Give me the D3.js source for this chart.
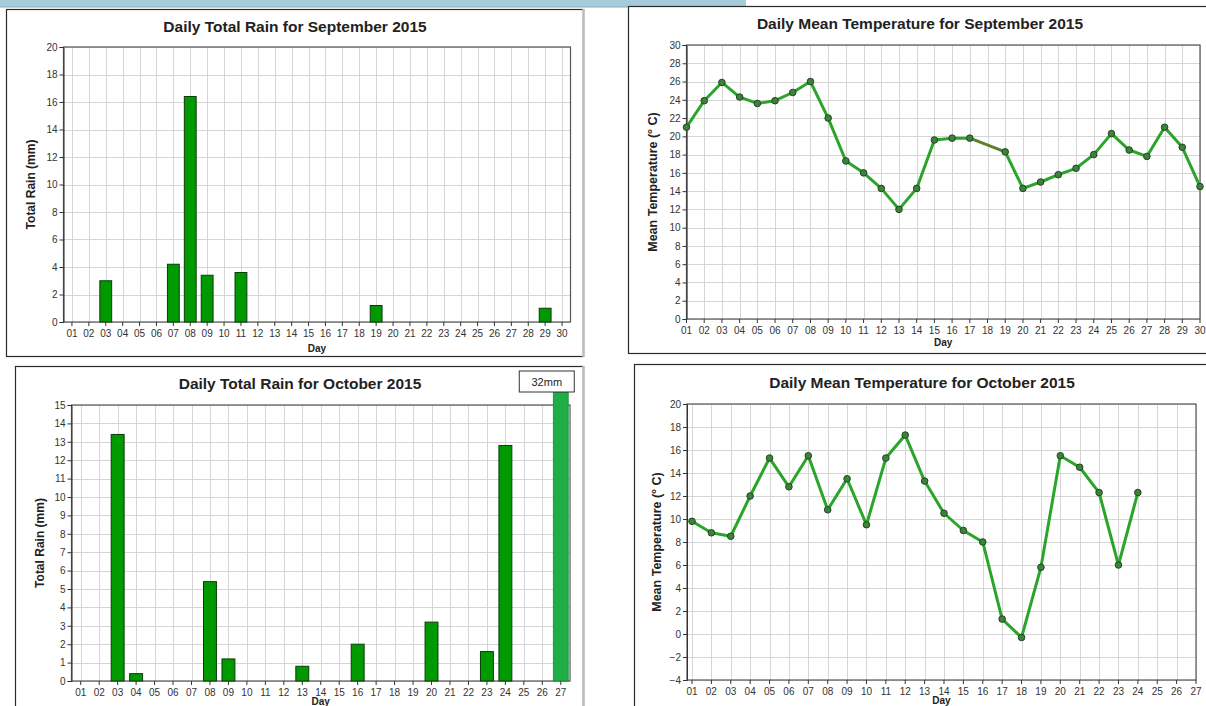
<!DOCTYPE html>
<html>
<head>
<meta charset="utf-8">
<script src="https://cdn.jsdelivr.net/npm/d3@7/dist/d3.min.js"></script>
<style>
  html, body { margin: 0; padding: 0; background: #fff; }
  svg { display: block; }
  text { font-family: "Liberation Sans", Arial, Helvetica, sans-serif; }
</style>
</head>
<body>
<svg id="chart" width="1206" height="706"></svg>
<script>
// ---------------- DATA ----------------
const sepDayLabels = ["01","02","03","04","05","06","07","08","09","10","11","12","13","14","15","16","17","18","19","20","21","22","23","24","25","26","27","28","29","30"];
const octDayLabels = ["01","02","03","04","05","06","07","08","09","10","11","12","13","14","15","16","17","18","19","20","21","22","23","24","25","26","27"];

const sepRain = [0,0,3.0,0,0,0,4.2,16.4,3.4,0,3.6,0,0,0,0,0,0,0,1.2,0,0,0,0,0,0,0,0,0,1.0,0];
const octRain = [0,0,13.4,0.4,0,0,0,5.4,1.2,0,0,0,0.8,0,0,2.0,0,0,0,3.2,0,0,1.6,12.8,0,0,32];

const sepTemp = [21.0,23.9,25.9,24.3,23.6,23.9,24.8,26.0,22.0,17.3,16.0,14.3,12.0,14.3,19.6,19.8,19.8,null,18.3,14.3,15.0,15.8,16.5,18.0,20.3,18.5,17.8,21.0,18.8,14.5];
const octTemp = [9.8,8.8,8.5,12.0,15.3,12.8,15.5,10.8,13.5,9.5,15.3,17.3,13.3,10.5,9.0,8.0,1.3,-0.3,5.8,15.5,14.5,12.3,6.0,12.3];

const sepRainTicks = [0,2,4,6,8,10,12,14,16,18,20];
const octRainTicks = [0,1,2,3,4,5,6,7,8,9,10,11,12,13,14,15];
const sepTempTicks = [0,2,4,6,8,10,12,14,16,18,20,22,24,26,28,30];
const octTempTicks = [-4,-2,0,2,4,6,8,10,12,14,16,18,20];

const titles = [
  "Daily Total Rain for September 2015",
  "Daily Mean Temperature for September 2015",
  "Daily Total Rain for October 2015",
  "Daily Mean Temperature for October 2015"
];
const rainLabel = "Total Rain (mm)";
const tempLabel = "Mean Temperature (° C)";
const xLabel = "Day";

// ---------------- DRAW ----------------
const svg = d3.select("#chart");

// top light-blue banner
svg.append("rect").attr("x", 0).attr("y", 0).attr("width", 746).attr("height", 7)
  .attr("fill", "#a6cbdb");
svg.append("line").attr("x1", 0).attr("x2", 746).attr("y1", 7).attr("y2", 7)
  .attr("stroke", "#86aebf").attr("stroke-width", 1);

function frame(f) {
  const g = svg.append("g");
  g.append("rect").attr("x", f.x + 0.5).attr("y", f.y + 0.5).attr("width", f.w).attr("height", f.h)
    .attr("fill", "#fff").attr("stroke", "#2a2a2a").attr("stroke-width", 1.2);
  if (f.greyRight) {
    g.append("line").attr("x1", f.x + f.w + 0.5).attr("x2", f.x + f.w + 0.5)
      .attr("y1", f.y).attr("y2", f.y + f.h + 1)
      .attr("stroke", "#bdbdbd").attr("stroke-width", 2.5);
  }
}

function axesAndGrid(g, p, xPos, y, yTicks, dayLabels) {
  g.append("g").selectAll("line").data(yTicks).join("line")
    .attr("x1", p.l).attr("x2", p.r)
    .attr("y1", d => Math.round(y(d)) + 0.5).attr("y2", d => Math.round(y(d)) + 0.5)
    .attr("stroke", "#d6d6d6").attr("stroke-width", 1);
  g.append("g").selectAll("line").data(dayLabels).join("line")
    .attr("x1", d => Math.round(xPos(d)) + 0.5).attr("x2", d => Math.round(xPos(d)) + 0.5)
    .attr("y1", p.t).attr("y2", p.b)
    .attr("stroke", "#d6d6d6").attr("stroke-width", 1);
  g.append("rect").attr("x", p.l).attr("y", p.t).attr("width", p.r - p.l).attr("height", p.b - p.t)
    .attr("fill", "none").attr("stroke", "#555").attr("stroke-width", 1.2);

  const ya = g.append("g").attr("transform", `translate(${p.l},0)`)
    .call(d3.axisLeft(y).tickValues(yTicks).tickSize(4).tickPadding(2).tickFormat(d => d < 0 ? "\u2212" + Math.abs(d) : d));
  ya.select(".domain").attr("stroke", "#333");
  ya.selectAll(".tick line").attr("stroke", "#333");
  ya.selectAll("text").attr("font-size", 10).attr("fill", "#333")
    .attr("font-family", '"Liberation Sans", Arial, sans-serif');

  const xa = g.append("g").attr("transform", `translate(0,${p.b})`);
  xa.selectAll("line").data(dayLabels).join("line")
    .attr("x1", d => xPos(d)).attr("x2", d => xPos(d))
    .attr("y1", 0).attr("y2", 4).attr("stroke", "#333");
  xa.selectAll("text").data(dayLabels).join("text")
    .attr("x", d => xPos(d)).attr("y", 15)
    .attr("text-anchor", "middle").attr("font-size", 10).attr("fill", "#333")
    .text(d => d);
}

function labels(p, title, titleX, titleY, ylab, ylabX, ylabSize, xlabY) {
  svg.append("text").attr("x", titleX).attr("y", titleY).attr("text-anchor", "middle")
    .attr("font-size", 15.5).attr("font-weight", "bold").attr("fill", "#222").text(title);
  svg.append("text").attr("transform", `translate(${ylabX},${(p.t + p.b) / 2}) rotate(-90)`)
    .attr("text-anchor", "middle").attr("font-size", ylabSize).attr("font-weight", "bold")
    .attr("fill", "#222").text(ylab);
  svg.append("text").attr("x", (p.l + p.r) / 2).attr("y", xlabY).attr("text-anchor", "middle")
    .attr("font-size", 10).attr("font-weight", "bold").attr("fill", "#222").text(xLabel);
}

function rainPanel(f, p, days, values, ticks, title, titleX, titleY, ylabX, xlabY, overflow) {
  frame(f);
  const g = svg.append("g");
  const x = d3.scaleBand().domain(days).range([p.l, p.r]).paddingInner(0.3).paddingOuter(0.15);
  const xPos = d => x(d) + x.bandwidth() / 2;
  const yMax = ticks[ticks.length - 1];
  const y = d3.scaleLinear().domain([0, yMax]).range([p.b, p.t]);
  axesAndGrid(g, p, xPos, y, ticks, days);

  const data = days.map((d, i) => ({ day: d, v: values[i] })).filter(d => d.v > 0);
  const normal = data.filter(d => d.v <= yMax);
  g.append("g").selectAll("rect").data(normal).join("rect")
    .attr("x", d => x(d.day)).attr("width", x.bandwidth())
    .attr("y", d => y(d.v)).attr("height", d => y(0) - y(d.v))
    .attr("fill", "#009a00").attr("stroke", "#0b3b0b").attr("stroke-width", 1);

  const big = data.filter(d => d.v > yMax);
  if (big.length && overflow) {
    const top = y(yMax) - overflow.extend;
    g.append("g").selectAll("rect").data(big).join("rect")
      .attr("x", d => x(d.day) - 1).attr("width", x.bandwidth() + 2)
      .attr("y", top).attr("height", y(0) - top)
      .attr("fill", "#1fae45").attr("stroke", "#178a36").attr("stroke-width", 0.8);
    big.forEach(d => {
      const bx = xPos(d.day) + overflow.boxDx;
      g.append("rect").attr("x", bx - overflow.boxW / 2).attr("y", top - overflow.boxH)
        .attr("width", overflow.boxW).attr("height", overflow.boxH)
        .attr("fill", "#fff").attr("stroke", "#333").attr("stroke-width", 1);
      g.append("text").attr("x", bx).attr("y", top - overflow.boxH / 2 + 4)
        .attr("text-anchor", "middle").attr("font-size", 11).attr("fill", "#222")
        .text(d.v + "mm");
    });
  }
  labels(p, title, titleX, titleY, rainLabel, ylabX, 12, xlabY);
}

function tempPanel(f, p, days, values, ticks, title, titleX, titleY, ylabX, xlabY, firstOffset) {
  frame(f);
  const g = svg.append("g");
  const xl = d3.scaleLinear().domain([1, days.length]).range([p.l + firstOffset, p.r]);
  const xPos = d => xl(days.indexOf(d) + 1);
  const y = d3.scaleLinear().domain([ticks[0], ticks[ticks.length - 1]]).range([p.b, p.t]);
  axesAndGrid(g, p, xPos, y, ticks, days);

  const pts = values.map((v, i) => ({ day: days[i], v })).filter(d => d.v !== null && d.v !== undefined);
  const segs = [];
  for (let i = 1; i < pts.length; i++) {
    const gap = days.indexOf(pts[i].day) - days.indexOf(pts[i - 1].day) > 1;
    segs.push({ a: pts[i - 1], b: pts[i], gap });
  }
  g.append("g").selectAll("line").data(segs).join("line")
    .attr("x1", d => xPos(d.a.day)).attr("y1", d => y(d.a.v))
    .attr("x2", d => xPos(d.b.day)).attr("y2", d => y(d.b.v))
    .attr("stroke", d => d.gap ? "#5f7f2a" : "#2aa52a")
    .attr("stroke-width", 3).attr("stroke-linecap", "round");
  g.append("g").selectAll("circle").data(pts).join("circle")
    .attr("cx", d => xPos(d.day)).attr("cy", d => y(d.v)).attr("r", 3.3)
    .attr("fill", "#3f7f3f").attr("stroke", "#1d4a1d").attr("stroke-width", 1);
  labels(p, title, titleX, titleY, tempLabel, ylabX, 12.5, xlabY);
}

rainPanel({ x: 6, y: 9, w: 577, h: 347, greyRight: true },
  { l: 63.5, r: 570.5, t: 47, b: 322 },
  sepDayLabels, sepRain, sepRainTicks, titles[0], 295, 32, 35, 352, null);

tempPanel({ x: 628, y: 6, w: 600, h: 347 },
  { l: 686.5, r: 1200, t: 45, b: 319 },
  sepDayLabels, sepTemp, sepTempTicks, titles[1], 920, 29, 657, 346, 0);

rainPanel({ x: 15, y: 366, w: 568, h: 360, greyRight: true },
  { l: 71.5, r: 570, t: 405, b: 681 },
  octDayLabels, octRain, octRainTicks, titles[2], 300, 389, 44, 705,
  { extend: 13, boxW: 55, boxH: 21, boxDx: -14 });

tempPanel({ x: 634, y: 364, w: 600, h: 360 },
  { l: 687, r: 1196, t: 404, b: 680 },
  octDayLabels, octTemp, octTempTicks, titles[3], 922, 388, 661, 704, 5);
</script>
</body>
</html>
